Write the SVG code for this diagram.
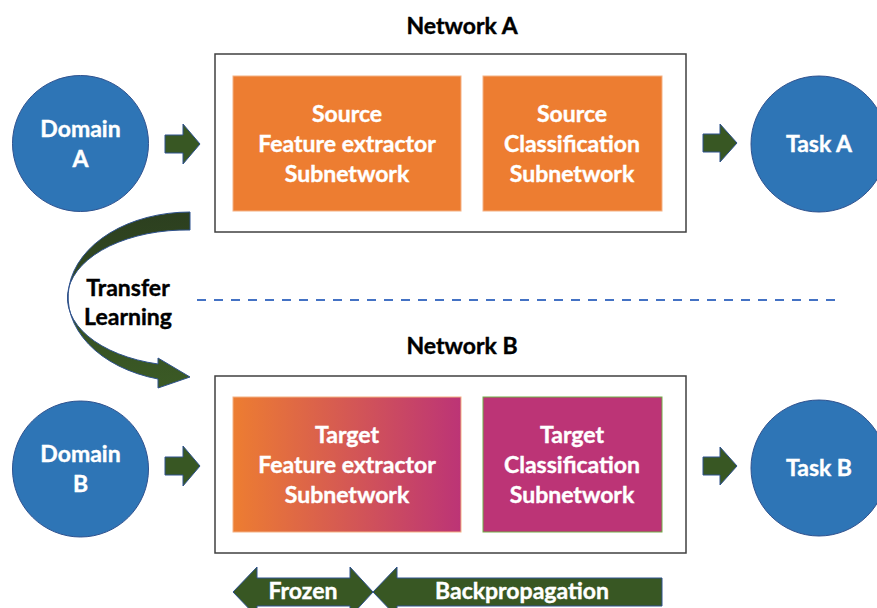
<svg xmlns="http://www.w3.org/2000/svg" width="877" height="608" viewBox="0 0 877 608">
<defs>
<linearGradient id="tg" x1="0" y1="0" x2="1" y2="0">
<stop offset="0" stop-color="#ED7D31"/>
<stop offset="1" stop-color="#BC3476"/>
</linearGradient>
<linearGradient id="cg" x1="0" y1="0" x2="0" y2="1">
<stop offset="0" stop-color="#2C3F1F"/>
<stop offset="1" stop-color="#3B5A25"/>
</linearGradient>
<style>
text{font-family:Lato,"Open Sans","Liberation Sans",sans-serif;font-weight:bold;text-anchor:middle;font-size:23px}
.w{fill:#FFFFFF;stroke:#FFFFFF;stroke-width:0.4}
.k{fill:#000000;stroke:#000000;stroke-width:0.4}
.net{fill:#FFFFFF;stroke:#404040;stroke-width:1.5}
.circ{fill:#2E75B6;stroke:#2F528F;stroke-width:1}
.arr{fill:#385723;stroke:#2F528F;stroke-width:1}
</style>
</defs>
<rect width="877" height="608" fill="#FFFFFF"/>

<g id="networkA">
<text class="k" x="462" y="34">Network A</text>
<rect class="net" x="215" y="54" width="471" height="178"/>
</g>
<g id="sourceFeature">
<rect x="233" y="76" width="228" height="135" fill="#ED7D31" stroke="#F4B183" stroke-width="1"/>
<text class="w" x="347" y="122">Source</text>
<text class="w" x="347" y="152">Feature extractor</text>
<text class="w" x="347" y="182">Subnetwork</text>
</g>
<g id="sourceClass">
<rect x="483" y="76" width="179" height="135" fill="#ED7D31" stroke="#F4B183" stroke-width="1"/>
<text class="w" x="572" y="122">Source</text>
<text class="w" x="572" y="152">Classification</text>
<text class="w" x="572" y="182">Subnetwork</text>
</g>
<g id="domainA">
<circle class="circ" cx="80.5" cy="143.5" r="68"/>
<text class="w" x="80.5" y="137">Domain</text>
<text class="w" x="80.5" y="167">A</text>
</g>
<g id="taskA">
<circle class="circ" cx="819" cy="144" r="68"/>
<text class="w" x="819" y="152">Task A</text>
</g>

<g id="networkB">
<text class="k" x="462" y="354">Network B</text>
<rect class="net" x="215" y="376" width="471" height="177"/>
</g>
<g id="targetFeature">
<rect x="233" y="397" width="228" height="135" fill="url(#tg)" stroke="#F4B183" stroke-width="1"/>
<text class="w" x="347" y="443">Target</text>
<text class="w" x="347" y="473">Feature extractor</text>
<text class="w" x="347" y="503">Subnetwork</text>
</g>
<g id="targetClass">
<rect x="483" y="397" width="179" height="135" fill="#BC3476" stroke="#70AD47" stroke-width="1"/>
<text class="w" x="572" y="443">Target</text>
<text class="w" x="572" y="473">Classification</text>
<text class="w" x="572" y="503">Subnetwork</text>
</g>
<g id="domainB">
<circle class="circ" cx="80.5" cy="469" r="68"/>
<text class="w" x="80.5" y="462">Domain</text>
<text class="w" x="80.5" y="492">B</text>
</g>
<g id="taskB">
<circle class="circ" cx="819" cy="468" r="68"/>
<text class="w" x="819" y="476">Task B</text>
</g>

<g id="connectors">
<path class="arr" d="M165,135 H183 V124 L200,144 L183,164 V153 H165 Z"/>
<path class="arr" d="M703,134 H720 V124 L737,143 L720,162 V152 H703 Z"/>
<path class="arr" d="M165,457 H183 V446 L200,466 L183,486 V475 H165 Z"/>
<path class="arr" d="M703,457 H720 V447 L737,466 L720,485 V475 H703 Z"/>
<path d="M190,212 A122,85 0 0 0 158,379 L158,388 L190,377 L158,358 L158,364 A119,68 0 0 1 190,230 Z" fill="url(#cg)" stroke="#2F528F" stroke-width="1"/>
<line x1="197" y1="300" x2="840" y2="300" stroke="#4472C4" stroke-width="2" stroke-dasharray="9 8"/>
<path class="arr" d="M233,592 L257,567 V578 H350 V567 L373,592 L350,617 V606 H257 V617 Z"/>
<path class="arr" d="M373,592 L397,567 V578 H662 V606 H397 V617 Z"/>
</g>
<g id="labels">
<text class="k" x="128" y="296">Transfer</text>
<text class="k" x="128" y="325">Learning</text>
<text class="w" x="303" y="599">Frozen</text>
<text class="w" x="522" y="599">Backpropagation</text>
</g>
</svg>
